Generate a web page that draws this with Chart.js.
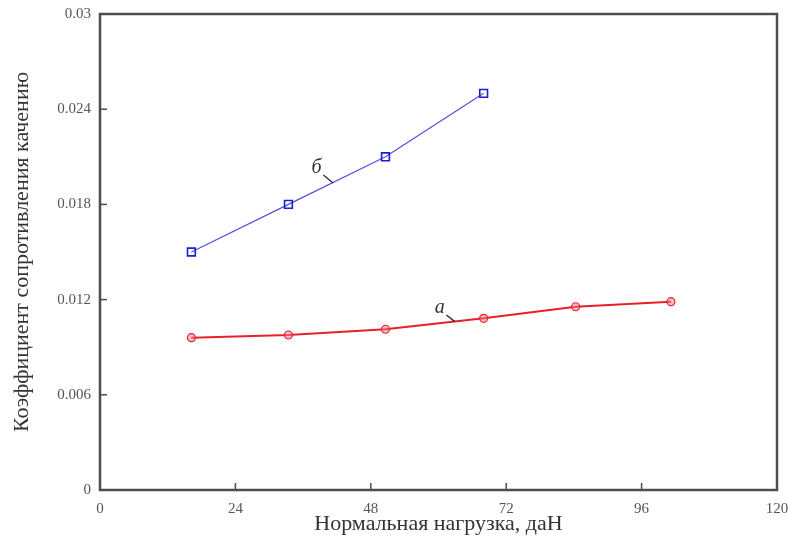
<!DOCTYPE html>
<html>
<head>
<meta charset="utf-8">
<script src="https://cdn.jsdelivr.net/npm/chart.js@4/dist/chart.umd.min.js"></script>
<style>
  html, body { margin: 0; padding: 0; background: #fff; }
  #wrap { width: 803px; height: 546px; }
</style>
</head>
<body>
<div id="wrap"><canvas id="chart" width="803" height="546"></canvas></div>
<script>
// нагрузка, даН
const loadA = [16.2, 33.4, 50.6, 68.0, 84.3, 101.2];
const coefA = [0.0096, 0.00977, 0.01013, 0.01082, 0.01155, 0.01187];

const loadB = [16.2, 33.4, 50.6, 68.0];
const coefB = [0.0150, 0.0180, 0.0210, 0.0250];

const xTicks = [0, 24, 48, 72, 96, 120];
const yTicks = [0, 0.006, 0.012, 0.018, 0.024, 0.03];

// подписи кривых: текст, точка текста, выноска (в координатах данных)
const curveLabels = [
    { text: "б", x: 38.4, y: 0.02028, from: [39.6, 0.01985], to: [41.3, 0.01935] },
    { text: "а", x: 60.2, y: 0.01147, from: [61.4, 0.01103], to: [62.9, 0.01061] }
];

const toXY = (xs, ys) => xs.map((x, i) => ({ x, y: ys[i] }));

// рамка, внутренние засечки и подписи кривых
const framePlugin = {
    id: "frame",
    afterDatasetsDraw(chart) {
        const { ctx, chartArea: a, scales } = chart;
        ctx.save();
        ctx.strokeStyle = "#4d4d4d";
        ctx.lineWidth = 1.5;
        xTicks.slice(1, -1).forEach(v => {
            const px = scales.x.getPixelForValue(v);
            ctx.beginPath();
            ctx.moveTo(px, a.bottom);
            ctx.lineTo(px, a.bottom - 7);
            ctx.stroke();
        });
        yTicks.slice(1, -1).forEach(v => {
            const py = scales.y.getPixelForValue(v);
            ctx.beginPath();
            ctx.moveTo(a.left, py);
            ctx.lineTo(a.left + 7, py);
            ctx.stroke();
        });
        ctx.lineWidth = 2.5;
        ctx.strokeRect(a.left, a.top, a.right - a.left, a.bottom - a.top);

        ctx.fillStyle = "#333";
        ctx.font = "italic 20px 'Liberation Serif'";
        ctx.textAlign = "center";
        ctx.textBaseline = "middle";
        ctx.strokeStyle = "#333";
        ctx.lineWidth = 1.5;
        curveLabels.forEach(l => {
            ctx.fillText(l.text, scales.x.getPixelForValue(l.x), scales.y.getPixelForValue(l.y));
            ctx.beginPath();
            ctx.moveTo(scales.x.getPixelForValue(l.from[0]), scales.y.getPixelForValue(l.from[1]));
            ctx.lineTo(scales.x.getPixelForValue(l.to[0]), scales.y.getPixelForValue(l.to[1]));
            ctx.stroke();
        });
        ctx.restore();
    }
};

new Chart(document.getElementById("chart"), {
    type: "line",
    data: {
        datasets: [{
            label: "а",
            data: toXY(loadA, coefA),
            borderColor: "#e8202a",
            borderWidth: 2,
            pointStyle: "circle",
            pointRadius: 4,
            pointBorderColor: "#e8202a",
            pointBackgroundColor: "rgba(240, 120, 130, 0.5)",
            pointBorderWidth: 1.2,
            tension: 0
        }, {
            label: "б",
            data: toXY(loadB, coefB),
            borderColor: "#5050e0",
            borderWidth: 1.2,
            pointStyle: "rect",
            pointRadius: 5.5,
            pointBorderColor: "#1c1cd0",
            pointBackgroundColor: "rgba(255, 255, 255, 0)",
            pointBorderWidth: 1.6,
            tension: 0
        }]
    },
    options: {
        responsive: false,
        animation: false,
        layout: { padding: { top: 14, right: 26, left: 0, bottom: 0 } },
        plugins: {
            legend: { display: false },
            tooltip: { enabled: false }
        },
        scales: {
            x: {
                type: "linear",
                min: 0,
                max: 120,
                afterBuildTicks: s => { s.ticks = xTicks.map(v => ({ value: v })); },
                afterFit: s => { s.height = 56; },
                grid: { display: false },
                border: { display: false },
                ticks: {
                    color: "#555",
                    font: { family: "Liberation Serif", size: 15 },
                    padding: 2,
                    maxRotation: 0
                },
                title: {
                    display: true,
                    text: "Нормальная нагрузка, даН",
                    color: "#333",
                    font: { family: "Liberation Serif", size: 22 },
                    padding: { top: 0, bottom: 9 }
                }
            },
            y: {
                type: "linear",
                min: 0,
                max: 0.03,
                afterBuildTicks: s => { s.ticks = yTicks.map(v => ({ value: v })); },
                afterFit: s => { s.width = 100; },
                grid: { display: false },
                border: { display: false },
                ticks: {
                    color: "#555",
                    font: { family: "Liberation Serif", size: 15 },
                    padding: 1,
                    callback: v => String(+v.toFixed(3))
                },
                title: {
                    display: true,
                    text: "Коэффициент сопротивления качению",
                    color: "#333",
                    font: { family: "Liberation Serif", size: 22 },
                    padding: { top: 9, bottom: 4 }
                }
            }
        }
    },
    plugins: [framePlugin]
});
</script>
</body>
</html>
